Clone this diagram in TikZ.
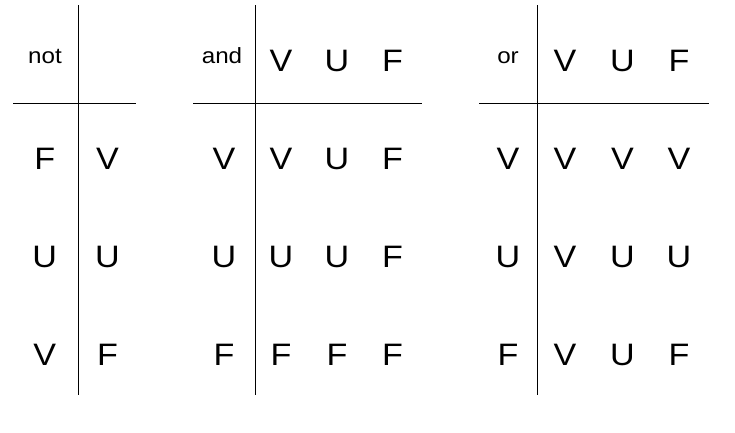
\documentclass[tikz,border=0pt]{standalone}
\usepackage{fontspec}
\setmainfont{Liberation Sans}
\newfontfamily\widesans[FakeStretch=1.1]{Liberation Sans}
\begin{document}
\begin{tikzpicture}[x=1pt,y=-1pt,
  rule/.style={line width=1pt,black},
  big/.style={anchor=base,inner sep=0pt,font=\widesans\fontsize{31}{31}\selectfont},
  small/.style={anchor=base,inner sep=0pt,font=\widesans\fontsize{22}{22}\selectfont}]
\useasboundingbox (0,0) rectangle (735,432);
% row baselines
\def\ra{71.7}\def\rb{169.8}\def\rc{267.8}\def\rd{365.8}
% ---- not table
\coordinate (nvt) at (78,5); \coordinate (nvb) at (78,395);
\coordinate (nhl) at (13,103); \coordinate (nhr) at (136,103);
\draw[rule] (nvt) -- (nvb);
\draw[rule] (nhl) -- (nhr);
\node[small] (notlab) at (45,63.3) {not};
\node[big] (n1a) at (44.7,\rb) {F}; \node[big] (n1b) at (107.5,\rb) {V};
\node[big] (n2a) at (44.7,\rc) {U}; \node[big] (n2b) at (107.5,\rc) {U};
\node[big] (n3a) at (44.7,\rd) {V}; \node[big] (n3b) at (107.5,\rd) {F};
% ---- and table
\coordinate (avt) at (255.3,5); \coordinate (avb) at (255.3,395);
\coordinate (ahl) at (193,103); \coordinate (ahr) at (422,103);
\draw[rule] (avt) -- (avb);
\draw[rule] (ahl) -- (ahr);
\node[small] (andlab) at (222,63.3) {and};
\node[big] (ah1) at (281,\ra) {V}; \node[big] (ah2) at (337,\ra) {U}; \node[big] (ah3) at (392.5,\ra) {F};
\node[big] (a1) at (224,\rb) {V}; \node[big] (a11) at (281,\rb) {V}; \node[big] (a12) at (337,\rb) {U}; \node[big] (a13) at (392.5,\rb) {F};
\node[big] (a2) at (224,\rc) {U}; \node[big] (a21) at (281,\rc) {U}; \node[big] (a22) at (337,\rc) {U}; \node[big] (a23) at (392.5,\rc) {F};
\node[big] (a3) at (224,\rd) {F}; \node[big] (a31) at (281,\rd) {F}; \node[big] (a32) at (337,\rd) {F}; \node[big] (a33) at (392.5,\rd) {F};
% ---- or table
\coordinate (ovt) at (537.3,5); \coordinate (ovb) at (537.3,395);
\coordinate (ohl) at (479,103); \coordinate (ohr) at (709,103);
\draw[rule] (ovt) -- (ovb);
\draw[rule] (ohl) -- (ohr);
\node[small] (orlab) at (508,63.3) {or};
\node[big] (oh1) at (565,\ra) {V}; \node[big] (oh2) at (622.5,\ra) {U}; \node[big] (oh3) at (679,\ra) {F};
\node[big] (o1) at (508,\rb) {V}; \node[big] (o11) at (565,\rb) {V}; \node[big] (o12) at (622.5,\rb) {V}; \node[big] (o13) at (679,\rb) {V};
\node[big] (o2) at (508,\rc) {U}; \node[big] (o21) at (565,\rc) {V}; \node[big] (o22) at (622.5,\rc) {U}; \node[big] (o23) at (679,\rc) {U};
\node[big] (o3) at (508,\rd) {F}; \node[big] (o31) at (565,\rd) {V}; \node[big] (o32) at (622.5,\rd) {U}; \node[big] (o33) at (679,\rd) {F};
\end{tikzpicture}
\end{document}
